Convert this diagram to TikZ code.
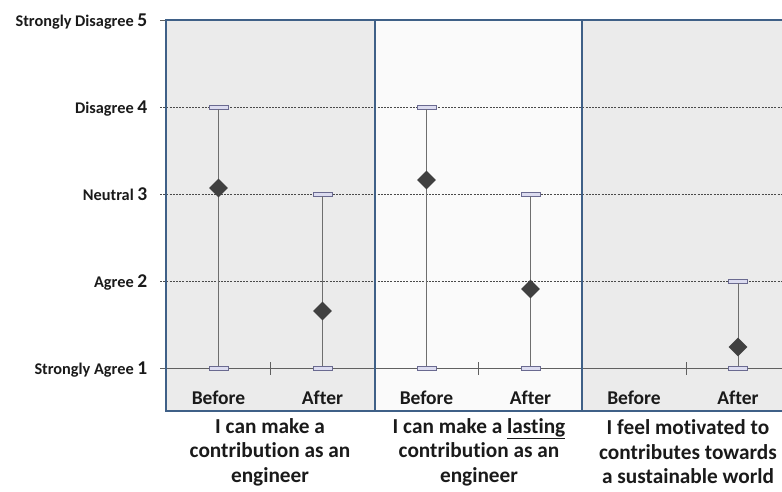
\documentclass[tikz,border=0pt]{standalone}
\usepackage{fontspec}
\setmainfont{Carlito}[Ligatures=NoCommon]
\usetikzlibrary{shapes.geometric}
\definecolor{panelgray}{HTML}{EBEBEB}
\definecolor{panelwhite}{HTML}{FAFAFA}
\definecolor{frame}{HTML}{3F6087}
\definecolor{gridc}{HTML}{4A4A4A}
\definecolor{basec}{HTML}{606060}
\definecolor{whc}{HTML}{6E6E6E}
\definecolor{capfill}{HTML}{DCDCF0}
\definecolor{capedge}{HTML}{6A6A90}
\definecolor{meanc}{HTML}{404040}
\definecolor{txt}{HTML}{1A1A1A}
\newcommand{\lvlfont}{\fontsize{19.5}{19.5}\selectfont}
\begin{document}
\begin{tikzpicture}[x=1pt,y=-1pt,
  panelfill/.style={fill=#1, draw=none},
  panelframe/.style={draw=frame, line width=2pt},
  gridline/.style={draw=gridc, line width=0.6pt, dash pattern=on 2pt off 1.2pt},
  baseline/.style={draw=basec, line width=0.9pt},
  whisker/.style={draw=whc, line width=0.9pt},
  capbox/.style={draw=capedge, fill=capfill, minimum width=19pt, minimum height=4pt, inner sep=0pt, line width=0.6pt},
  meanmark/.style={diamond, fill=meanc, minimum width=19pt, minimum height=19pt, inner sep=0pt},
  lvl/.style={anchor=base east, text=txt, font=\bfseries\fontsize{16.3}{16.3}\selectfont, inner sep=0pt},
  grp/.style={text=txt, font=\bfseries\fontsize{19.5}{19.5}\selectfont, inner sep=0pt, anchor=base},
  cat/.style={text=txt, font=\bfseries\fontsize{21.3}{24.5}\selectfont, align=center, inner sep=0pt}
]
\useasboundingbox (0,0) rectangle (782,491);
\clip (0,0) rectangle (782,491);

% panel backgrounds
\fill[panelfill=panelgray]  (166,20) rectangle (375,411);
\fill[panelfill=panelwhite] (375,20) rectangle (582,411);
\fill[panelfill=panelgray]  (582,20) rectangle (800,411);

% axis levels: tick marks and dashed grid lines
\foreach \yy in {107,194,281} {
  \draw[gridline] (160,\yy) -- (790,\yy);
}
\draw[basec, line width=0.9pt] (160,20) -- (166,20);
\draw[baseline] (160,368) -- (790,368);
\foreach \xx in {270,478,686} {
  \draw[basec, line width=0.8pt] (\xx,362) -- (\xx,375);
}

% level labels
\node[lvl] (l5) at (147.5,26)  {Strongly Disagree\ {\lvlfont 5}};
\node[lvl] (l4) at (147.5,113) {Disagree\ {\lvlfont 4}};
\node[lvl] (l3) at (147.5,200) {Neutral\ {\lvlfont 3}};
\node[lvl] (l2) at (147.5,287) {Agree\ {\lvlfont 2}};
\node[lvl] (l1) at (147.5,374) {Strongly Agree\ {\lvlfont 1}};

% ranges: low cap, high cap, mean
% item 1, before
\node[capbox] (a1lo) at (218.5,368) {};
\node[capbox] (a1hi) at (218.5,107) {};
\draw[whisker] (a1lo.north) -- (a1hi.south);
\node[meanmark] (a1m) at (218.5,188) {};
% item 1, after
\node[capbox] (a2lo) at (322.5,368) {};
\node[capbox] (a2hi) at (322.5,194) {};
\draw[whisker] (a2lo.north) -- (a2hi.south);
\node[meanmark] (a2m) at (322.5,311) {};
% item 2, before
\node[capbox] (b1lo) at (426.5,368) {};
\node[capbox] (b1hi) at (426.5,107) {};
\draw[whisker] (b1lo.north) -- (b1hi.south);
\node[meanmark] (b1m) at (426.5,180) {};
% item 2, after
\node[capbox] (b2lo) at (530.5,368) {};
\node[capbox] (b2hi) at (530.5,194) {};
\draw[whisker] (b2lo.north) -- (b2hi.south);
\node[meanmark] (b2m) at (530.5,289) {};
% item 3, after
\node[capbox] (c2lo) at (738,368) {};
\node[capbox] (c2hi) at (738,281) {};
\draw[whisker] (c2lo.north) -- (c2hi.south);
\node[meanmark] (c2m) at (738,347) {};

% panel frames
\draw[panelframe] (166,20) rectangle (375,411);
\draw[panelframe] (375,20) rectangle (582,411);
\draw[panelframe] (582,20) rectangle (800,411);

% group labels
\node[grp] (g1) at (218.5,404) {Before};
\node[grp] (g2) at (322.5,404) {After};
\node[grp] (g3) at (426.5,404) {Before};
\node[grp] (g4) at (530.5,404) {After};
\node[grp] (g5) at (634,404) {Before};
\node[grp] (g6) at (738,404) {After};

% item statements
\node[cat] (t1) at (270,452) {I can make a\\contribution as an\\engineer};
\node[cat] (t2) at (479,452) {I can make a \underline{lasting}\\contribution as an\\engineer};
\node[cat] (t3) at (688,452) {I feel motivated to\\contributes towards\\a sustainable world};
\end{tikzpicture}
\end{document}
